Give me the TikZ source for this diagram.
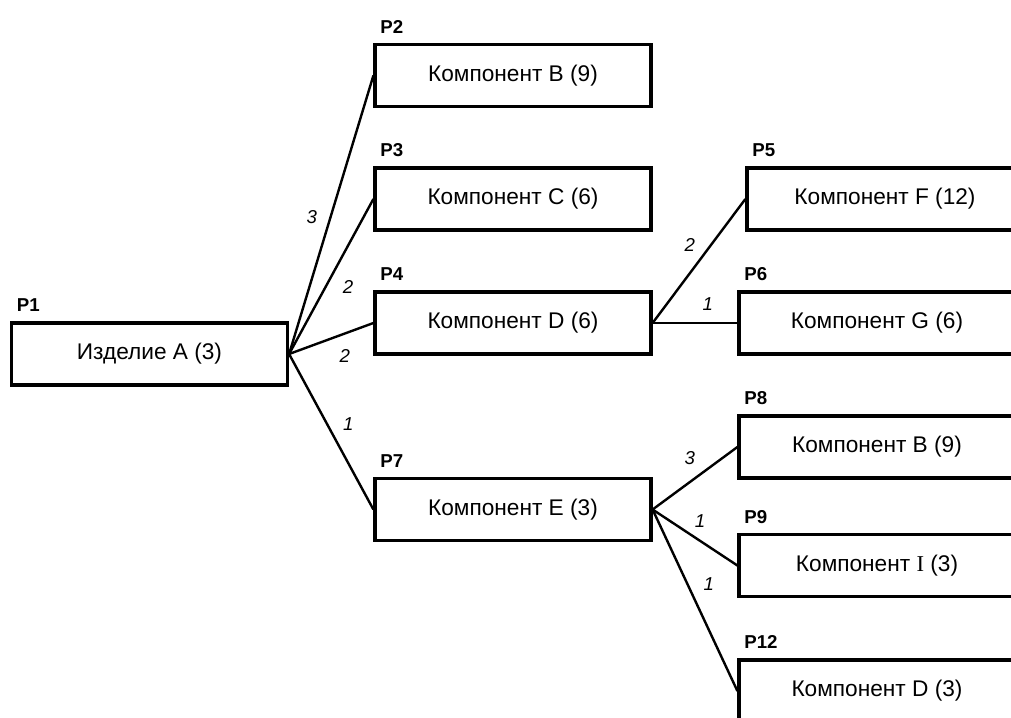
\documentclass[tikz,border=0pt]{standalone}
\usepackage{fontspec}
\setmainfont{Liberation Sans}
\newfontfamily\serifI{Liberation Serif}
\usepackage{tikz}
\usetikzlibrary{positioning}
\tikzset{
  partbox/.style={rectangle, draw=black, fill=white, line width=2.4pt,
    minimum width=207pt, minimum height=46.5pt, inner sep=0pt,
    font=\fontsize{17}{19}\selectfont},
  plabel/.style={font=\fontsize{14}{16}\selectfont\bfseries, inner sep=0pt,
    anchor=south west},
  qty/.style={font=\fontsize{14}{16}\selectfont\itshape, inner sep=0pt},
  link/.style={line width=1.8pt, color=black}
}
\begin{document}
\begin{tikzpicture}[x=0.75pt, y=-0.75pt]
  \clip (0,0) rectangle (1011,718);
  \fill[white] (0,0) rectangle (1011,718);

  % Parts
  \node[partbox] (p1) at (149.5,354) {Изделие A (3)};
  \node[partbox] (p2) at (513,75.5) {Компонент B (9)};
  \node[partbox] (p3) at (513,199) {Компонент C (6)};
  \node[partbox] (p4) at (513,323) {Компонент D (6)};
  \node[partbox] (p7) at (513,509.5) {Компонент E (3)};
  \node[partbox] (p5) at (885,199) {Компонент F (12)};
  \node[partbox] (p6) at (877,323) {Компонент G (6)};
  \node[partbox] (p8) at (877,447) {Компонент B (9)};
  \node[partbox] (p9) at (877,565.5) {Компонент {\serifI I} (3)};
  \node[partbox] (p12) at (877,691) {Компонент D (3)};

  % Position labels
  \foreach \p/\t in {p1/P1, p2/P2, p3/P3, p4/P4, p5/P5, p6/P6, p7/P7, p8/P8, p9/P9, p12/P12}
    \node[plabel, above right=7pt and 5pt of \p.north west] (lbl\p) {\t};

  % Links with quantities
  \draw[link] (p1.east) -- (p2.west) node[qty, pos=0.49, xshift=-14pt] {3};
  \draw[link] (p1.east) -- (p3.west) node[qty, pos=0.43, xshift=17pt] {2};
  \draw[link] (p1.east) -- (p4.west) node[qty, pos=0.66, yshift=-17pt] {2};
  \draw[link] (p1.east) -- (p7.west) node[qty, pos=0.45, xshift=16pt] {1};
  \draw[link] (p4.east) -- (p5.west) node[qty, pos=0.63, xshift=-16pt] {2};
  \draw[link] (p4.east) -- (p6.west) node[qty, pos=0.65, yshift=14pt] {1};
  \draw[link] (p7.east) -- (p8.west) node[qty, pos=0.44, yshift=18pt] {3};
  \draw[link] (p7.east) -- (p9.west) node[qty, pos=0.56, yshift=15pt] {1};
  \draw[link] (p7.east) -- (p12.west) node[qty, pos=0.41, xshift=16pt] {1};
\end{tikzpicture}
\end{document}
